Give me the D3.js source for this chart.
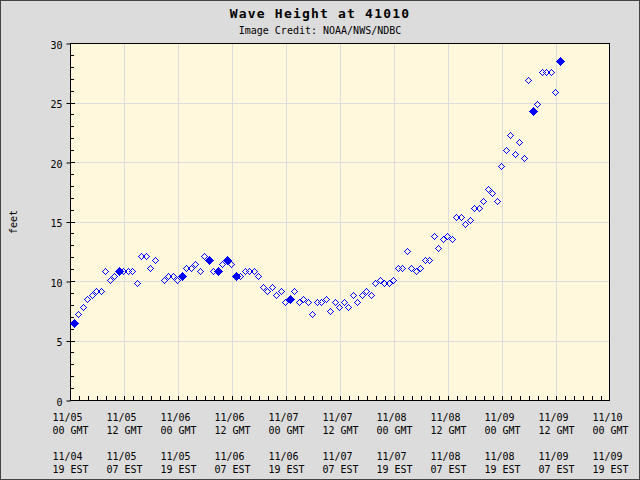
<!DOCTYPE html>
<html>
<head>
<meta charset="utf-8">
<script src="https://cdn.jsdelivr.net/npm/d3@7"></script>
<style>
  body { margin: 0; background: #dcdcdc; }
  svg text { font-family: "DejaVu Sans Mono", monospace; fill: #000; }
</style>
</head>
<body>
<div id="chart"></div>
<script>
// hours after 11/05 00 GMT (obs taken at :50 past each hour), hour 19 missing
var obsHours = [0,1,2,3,4,5,6,7,8,9,10,11,12,13,14,15,16,17,18,
    20,21,22,23,24,25,26,27,28,29,30,31,32,33,34,35,36,37,38,39,40,
    41,42,43,44,45,46,47,48,49,50,51,52,53,54,55,56,57,58,59,60,
    61,62,63,64,65,66,67,68,69,70,71,72,73,74,75,76,77,78,79,80,
    81,82,83,84,85,86,87,88,89,90,91,92,93,94,95,96,97,98,99,100,
    101,102,103,104,105,106,107,108];
var waveFt = [6.5,7.2,7.8,8.5,8.8,9.2,9.2,10.8,10.1,10.4,10.8,10.8,10.8,10.8,9.8,12.1,12.1,11.1,11.8,
    10.1,10.4,10.4,10.1,10.4,11.1,11.1,11.4,10.8,12.1,11.8,10.8,10.8,11.4,11.8,11.4,10.4,10.4,10.8,10.8,10.8,
    10.4,9.5,9.2,9.5,8.8,9.2,8.2,8.5,9.2,8.2,8.5,8.2,7.2,8.2,8.2,8.5,7.5,8.2,7.8,8.2,
    7.8,8.8,8.2,8.8,9.2,8.8,9.8,10.1,9.8,9.8,10.1,11.1,11.1,12.5,11.1,10.8,11.1,11.8,11.8,13.8,
    12.8,13.5,13.8,13.5,15.4,15.4,14.8,15.1,16.1,16.1,16.7,17.7,17.4,16.7,19.7,21.0,22.3,20.7,21.7,20.3,
    26.9,24.3,24.9,27.6,27.6,27.6,25.9,28.5];
var filledHours = [0,10,24,30,32,34,36,48,102,108];
var yTicks = [0,5,10,15,20,25,30];

var width = 640, height = 480;
var pL = 70, pR = 610, pT = 43, pB = 400;

var start = new Date(Date.UTC(2008,10,5,0)), end = new Date(Date.UTC(2008,10,10,0));

var data = obsHours.map(function(h, i) {
    return {t: new Date(start.getTime() + (h*60 + 50)*60000), v: waveFt[i], filled: filledHours.indexOf(h) >= 0};
});

var x = d3.scaleUtc().domain([start, end]).range([pL, pR]);
var y = d3.scaleLinear().domain([0, 30]).range([pB, pT]);

var svg = d3.select("#chart").append("svg")
    .attr("width", width).attr("height", height);

svg.append("rect").attr("x", 0.5).attr("y", 0.5).attr("width", width-1).attr("height", height-1)
    .attr("fill", "#dcdcdc").attr("stroke", "#444");

svg.append("rect").attr("x", pL).attr("y", pT).attr("width", pR-pL).attr("height", pB-pT)
    .attr("fill", "#fff8dc");

var majorTimes = d3.utcHour.every(12).range(start, new Date(end.getTime()+1));
var minorTimes = d3.utcHour.every(2).range(start, end);

// grid
svg.append("g").selectAll("line").data(majorTimes.slice(1, -1)).enter().append("line")
    .attr("x1", function(d){return Math.round(x(d))+0.5}).attr("x2", function(d){return Math.round(x(d))+0.5})
    .attr("y1", pT).attr("y2", pB).attr("stroke", "#dcdcdc");
svg.append("g").selectAll("line").data(yTicks.slice(1, -1)).enter().append("line")
    .attr("x1", pL).attr("x2", pR)
    .attr("y1", function(d){return Math.round(y(d))+0.5}).attr("y2", function(d){return Math.round(y(d))+0.5})
    .attr("stroke", "#dcdcdc");

// minor ticks
svg.append("g").selectAll("line").data(minorTimes).enter().append("line")
    .attr("x1", function(d){return Math.round(x(d))+0.5}).attr("x2", function(d){return Math.round(x(d))+0.5})
    .attr("y1", pB).attr("y2", pB-4).attr("stroke", "#000");
svg.append("g").selectAll("line").data(d3.range(0, 31)).enter().append("line")
    .attr("x1", pL).attr("x2", function(d){return d%5==0 ? pL+5 : pL+4})
    .attr("y1", function(d){return Math.round(y(d))+0.5}).attr("y2", function(d){return Math.round(y(d))+0.5})
    .attr("stroke", "#000");

// y axis labels
var yAxis = d3.axisLeft(y).tickValues(yTicks).tickSize(4).tickPadding(4).tickFormat(d3.format("d"));
var gy = svg.append("g").attr("transform", "translate(" + (pL+0.5) + ",0.5)").call(yAxis);
gy.select(".domain").remove();
gy.selectAll("line").attr("stroke", "#000");
gy.selectAll("text").attr("font-size", "10px").attr("font-family", "DejaVu Sans Mono").attr("dy", "0.45em");

// frame
svg.append("rect").attr("x", pL+0.5).attr("y", pT+0.5).attr("width", pR-pL-1).attr("height", pB-pT)
    .attr("fill", "none").attr("stroke", "#000");

// x labels
var fDay = d3.utcFormat("%m/%d"), fHr = d3.utcFormat("%H");
var xl = svg.append("g").selectAll("g").data(majorTimes).enter().append("g")
    .attr("transform", function(d){return "translate(" + (x(d)-17.5) + ",0)"})
    .attr("font-size", "10px");
xl.append("text").attr("y", 421).text(function(d){return fDay(d)});
xl.append("text").attr("y", 434).text(function(d){return fHr(d) + " GMT"});
xl.append("text").attr("y", 460).text(function(d){return fDay(d3.utcHour.offset(d, -5))});
xl.append("text").attr("y", 473).text(function(d){return fHr(d3.utcHour.offset(d, -5)) + " EST"});

// points
function diamond(r) {
    return "M0," + (-r) + "L" + r + ",0L0," + r + "L" + (-r) + ",0Z";
}
svg.append("g").selectAll("path").data(data).enter().append("path")
    .attr("transform", function(d){return "translate(" + (Math.round(x(d.t))+0.5) + "," + (Math.round(y(d.v))+0.5) + ")"})
    .attr("d", function(d){return d.filled ? diamond(3.5) : diamond(3)})
    .attr("fill", function(d){return d.filled ? "#0000ff" : "none"})
    .attr("stroke", "#0000ff").attr("stroke-width", 1)
    .attr("shape-rendering", "crispEdges");

// titles
svg.append("text").attr("x", 320).attr("y", 18).attr("text-anchor", "middle")
    .attr("font-size", "13px").attr("font-weight", "bold").attr("letter-spacing", "1.2px")
    .text("Wave Height at 41010");
svg.append("text").attr("x", 320).attr("y", 34).attr("text-anchor", "middle")
    .attr("font-size", "10px").text("Image Credit: NOAA/NWS/NDBC");
svg.append("text").attr("transform", "translate(17,222) rotate(-90)").attr("text-anchor", "middle")
    .attr("font-size", "10px").text("feet");
</script>
</body>
</html>
